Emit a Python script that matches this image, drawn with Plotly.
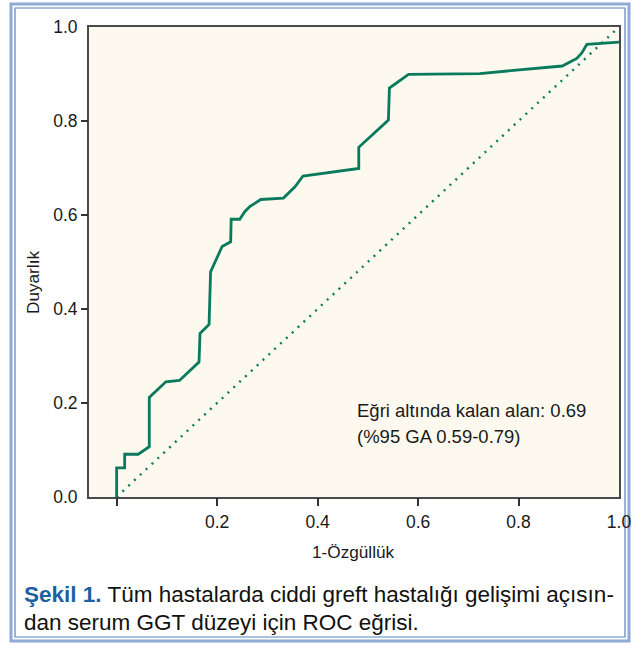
import plotly.graph_objects as go

# ROC curve: false positive rate (1-specificity) vs. sensitivity
fpr = [0, 0, 0.016, 0.016, 0.043, 0.065, 0.065, 0.098, 0.125, 0.164, 0.166,
       0.184, 0.187, 0.210, 0.227, 0.228, 0.245, 0.255, 0.265, 0.287, 0.332,
       0.355, 0.371, 0.482, 0.482, 0.541, 0.543, 0.581, 0.723, 0.887, 0.916,
       0.926, 0.936, 1.0]
tpr = [0, 0.062, 0.062, 0.091, 0.091, 0.107, 0.212, 0.245, 0.248, 0.287, 0.348,
       0.367, 0.479, 0.533, 0.543, 0.591, 0.591, 0.607, 0.618, 0.633, 0.636,
       0.660, 0.683, 0.699, 0.744, 0.802, 0.870, 0.899, 0.901, 0.917, 0.933,
       0.945, 0.963, 0.968]

# reference (chance) line
ref_x = [0, 1]
ref_y = [0, 1]

auc = 0.69
ci_low, ci_high = 0.59, 0.79

x_label_vals = [0.2, 0.4, 0.6, 0.8, 1.0]
x_tick_vals = [0.0, 0.2, 0.4, 0.6, 0.8]
y_label_vals = [0.0, 0.2, 0.4, 0.6, 0.8, 1.0]
y_tick_vals = [0.2, 0.4, 0.6, 0.8]

W, H = 639, 645
L, R, T, B = 89, 20, 27, 148
PW, PH = W - L - R, H - T - B

GREEN = "#0a7a5c"
FONT = "Liberation Sans, Arial, Helvetica, sans-serif"


def px_x(p):
    return (p - L) / PW


def px_y(p):
    return (H - B - p) / PH


fig = go.Figure()

fig.add_trace(go.Scatter(x=ref_x, y=ref_y, mode="lines",
                         line=dict(color=GREEN, width=2.4, dash="2px,6px"),
                         hoverinfo="skip", showlegend=False))
fig.add_trace(go.Scatter(x=fpr, y=tpr, mode="lines",
                         line=dict(color=GREEN, width=2.8),
                         showlegend=False))
# invisible trace so the tick-only overlay axes get drawn
fig.add_trace(go.Scatter(x=[0.5], y=[0.5], xaxis="x2", yaxis="y2",
                         mode="markers", marker=dict(opacity=0),
                         hoverinfo="skip", showlegend=False))

xr = [-0.055, 1.0]
yr = [0.0, 1.0]
axis_line = dict(showline=True, linecolor="#4a4a4a", linewidth=2,
                 showgrid=False, zeroline=False, automargin=False)

fig.update_layout(
    width=W, height=H,
    margin=dict(l=L, r=R, t=T, b=B),
    paper_bgcolor="white",
    plot_bgcolor="#fdf9ee",
    font=dict(family=FONT, size=17.5, color="#1a1a1a"),
    xaxis=dict(range=xr, tickvals=x_label_vals,
               ticktext=[f"{v:.1f}" for v in x_label_vals],
               ticks="outside", ticklen=8, tickcolor="rgba(0,0,0,0)",
               mirror=True, **axis_line),
    yaxis=dict(range=yr, tickvals=y_label_vals,
               ticktext=[f"{v:.1f}" for v in y_label_vals],
               ticks="outside", ticklen=6, tickcolor="rgba(0,0,0,0)",
               mirror=True, **axis_line),
    xaxis2=dict(range=xr, overlaying="x", anchor="y", side="bottom",
                tickvals=x_tick_vals, showticklabels=False,
                ticks="outside", ticklen=8, tickwidth=2, tickcolor="#333",
                showgrid=False, zeroline=False, showline=False),
    yaxis2=dict(range=yr, overlaying="y", anchor="x", side="left",
                tickvals=y_tick_vals, showticklabels=False,
                ticks="outside", ticklen=7, tickwidth=1.5, tickcolor="#333",
                showgrid=False, zeroline=False, showline=False),
)

annotations = [
    dict(x=0.474, y=0.183, xref="x", yref="y", xanchor="left", yanchor="middle",
         text=f"Eğri altında kalan alan: {auc:.2f}", showarrow=False,
         font=dict(size=18.5)),
    dict(x=0.474, y=0.128, xref="x", yref="y", xanchor="left", yanchor="middle",
         text=f"(%95 GA {ci_low:.2f}-{ci_high:.2f})", showarrow=False,
         font=dict(size=18.5)),
    dict(x=px_x(353), y=px_y(552), xref="paper", yref="paper",
         xanchor="center", yanchor="middle", text="1-Özgüllük",
         showarrow=False, font=dict(size=17.2)),
    dict(x=px_x(33), y=px_y(283), xref="paper", yref="paper",
         xanchor="center", yanchor="middle", text="Duyarlık", textangle=-90,
         showarrow=False, font=dict(size=17.2)),
    dict(x=px_x(22), y=px_y(594), xref="paper", yref="paper",
         xanchor="left", yanchor="middle", showarrow=False,
         text="<b><span style='color:#1d5fa3'>Şekil 1.</span></b> "
              "Tüm hastalarda ciddi greft hastalığı gelişimi açısın-",
         font=dict(size=22.5, color="#111")),
    dict(x=px_x(22), y=px_y(622), xref="paper", yref="paper",
         xanchor="left", yanchor="middle", showarrow=False,
         text="dan serum GGT düzeyi için ROC eğrisi.",
         font=dict(size=22.5, color="#111")),
]
fig.update_layout(annotations=annotations)

# double blue frame around the figure
fig.update_layout(shapes=[
    dict(type="rect", xref="paper", yref="paper",
         x0=px_x(11), x1=px_x(629), y0=px_y(641), y1=px_y(4),
         line=dict(color="#8eaad6", width=3), layer="below"),
    dict(type="rect", xref="paper", yref="paper",
         x0=px_x(15), x1=px_x(625), y0=px_y(637), y1=px_y(8),
         line=dict(color="#5b82c0", width=1.2), layer="below"),
])

fig.write_html("out.html")
